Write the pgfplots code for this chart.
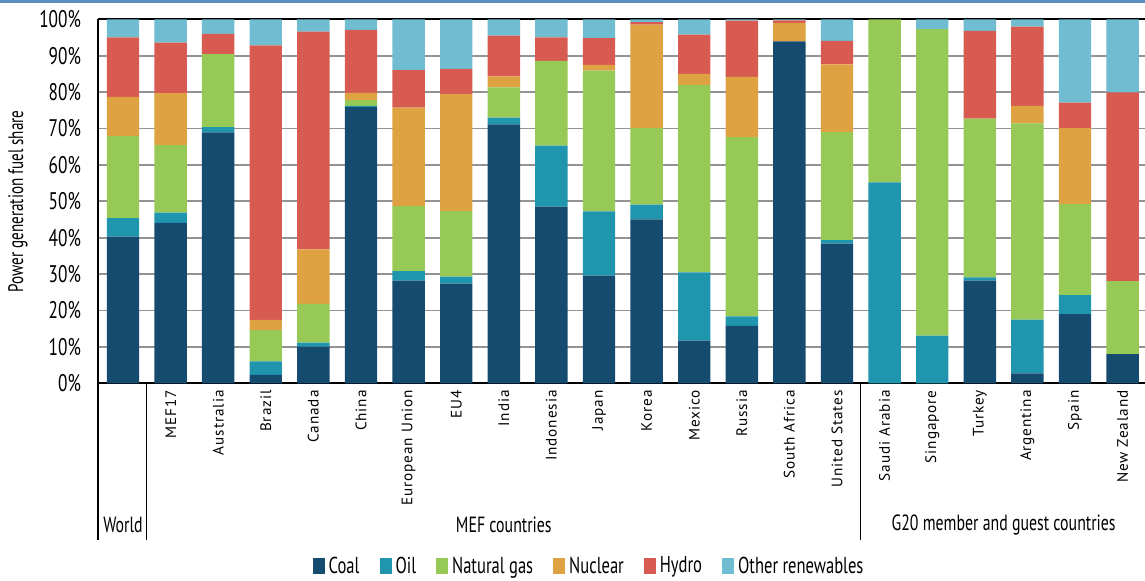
\documentclass[border=0pt]{standalone}
\usepackage{fontspec}
\setmainfont{PT Sans}
\newfontfamily\condf{PT Sans}[FakeStretch=0.72]
\newfontfamily\lblf{PT Sans}[LetterSpace=6]
\usepackage{pgfplots}
\pgfplotsset{compat=1.18}
\usepackage{pgfplotstable}
\definecolor{coal}{HTML}{164B70}
\definecolor{oil}{HTML}{1F96AE}
\definecolor{gas}{HTML}{96C956}
\definecolor{nuc}{HTML}{DFA242}
\definecolor{hydro}{HTML}{D85B51}
\definecolor{other}{HTML}{70BCD0}
\definecolor{topblue}{HTML}{5A8FC0}

\pgfplotstableread{
x coal oil gas nuc hydro other
0 40.3 5.1 22.5 10.8 16.3 5.0
1 44.1 2.8 18.5 14.3 13.9 6.4
2 68.9 1.5 20.0 0 5.6 4.0
3 2.3 3.7 8.6 2.8 75.4 7.2
4 10.1 1.1 10.6 15.0 59.8 3.4
5 75.9 0.3 1.6 2.0 17.3 2.9
6 28.2 2.6 17.9 27.0 10.3 14.0
7 27.4 1.9 18.0 32.2 6.9 13.6
8 71.1 1.9 8.3 3.0 11.2 4.5
9 48.5 16.8 23.3 0 6.4 5.0
10 29.6 17.6 38.7 1.6 7.3 5.2
11 45.0 4.1 21.0 28.4 0.7 0.8
12 11.7 18.8 51.4 3.1 10.8 4.2
13 15.8 2.6 49.2 16.6 15.4 0.4
14 93.9 0 0 5.1 0.7 0.3
15 38.4 0.9 29.7 18.6 6.5 5.9
16 0 55.2 44.8 0 0 0
17 0 13.1 84.2 0 0 2.7
18 28.2 0.9 43.6 0 24.1 3.2
19 2.7 14.8 53.9 4.8 21.8 2.0
20 19.0 5.2 25.0 20.9 7.0 22.9
21 8.0 0 20.1 0 51.8 20.1
}\datatable

\begin{document}
\begin{tikzpicture}
\useasboundingbox (0pt,0pt) rectangle (572.5pt,290.5pt);
\fill[topblue] (0pt,289pt) rectangle (572.5pt,290.5pt);
\begin{axis}[
  at={(49pt,98.85pt)}, anchor=south west,
  scale only axis, width=523.5pt, height=182pt,
  ybar stacked, bar width=16.2pt,
  xmin=-0.525, xmax=21.47, ymin=0, ymax=100,
  enlargelimits=false, clip=false,
  axis x line*=box, axis y line*=left,
  axis line style={line width=1pt, black},
  major tick length=0pt,
  ymajorgrids, major grid style={gray!85, line width=0.9pt},
  ytick={0,10,...,100},
  yticklabel={\pgfmathprintnumber{\tick}\%},
  /pgf/number format/assume math mode=true,
  yticklabel style={font=\condf\fontsize{12}{13}\selectfont, anchor=east, xshift=-5pt},
  xtick={0,...,21},
  xticklabels={,MEF17,Australia,Brazil,Canada,China,European Union,EU4,India,Indonesia,Japan,Korea,Mexico,Russia,South Africa,United States,Saudi Arabia,Singapore,Turkey,Argentina,Spain,New Zealand},
  xticklabel style={rotate=90, anchor=east, font=\lblf\fontsize{7.6}{9}\selectfont, yshift=0pt},
  ylabel={Power generation fuel share},
  every axis y label/.style={at={(axis description cs:-0.0764,0.5)}, rotate=90, anchor=center, font=\condf\fontsize{10.5}{12}\selectfont},
  legend style={at={(0.47,-0.503)}, anchor=center, legend columns=-1, draw=none, font=\condf\fontsize{11.5}{12}\selectfont,
    /tikz/every even column/.append style={column sep=8pt}},
  legend image code/.code={\fill[#1] (0pt,-4pt) rectangle (6pt,4pt);},
]
\addplot[fill=coal, draw=none] table[x=x,y=coal]{\datatable};
\addplot[fill=oil, draw=none] table[x=x,y=oil]{\datatable};
\addplot[fill=gas, draw=none] table[x=x,y=gas]{\datatable};
\addplot[fill=nuc, draw=none] table[x=x,y=nuc]{\datatable};
\addplot[fill=hydro, draw=none] table[x=x,y=hydro]{\datatable};
\addplot[fill=other, draw=none] table[x=x,y=other]{\datatable};
\legend{Coal,Oil,Natural gas,Nuclear,Hydro,Other renewables}
\draw[line width=1pt] (axis cs:-0.525,0) -- (axis cs:-0.525,-43);
\draw[line width=0.6pt] (axis cs:0.5,0) -- (axis cs:0.5,-43);
\draw[line width=0.6pt] (axis cs:15.5,0) -- (axis cs:15.5,-43);
\node[font=\condf\fontsize{11}{12}\selectfont] at (axis cs:0,-38.9) {World};
\node[font=\condf\fontsize{11}{12}\selectfont] at (axis cs:8,-38.9) {MEF countries};
\node[font=\condf\fontsize{11}{12}\selectfont] at (axis cs:18.5,-38.9) {G20 member and guest countries};
\end{axis}
\end{tikzpicture}
\end{document}
